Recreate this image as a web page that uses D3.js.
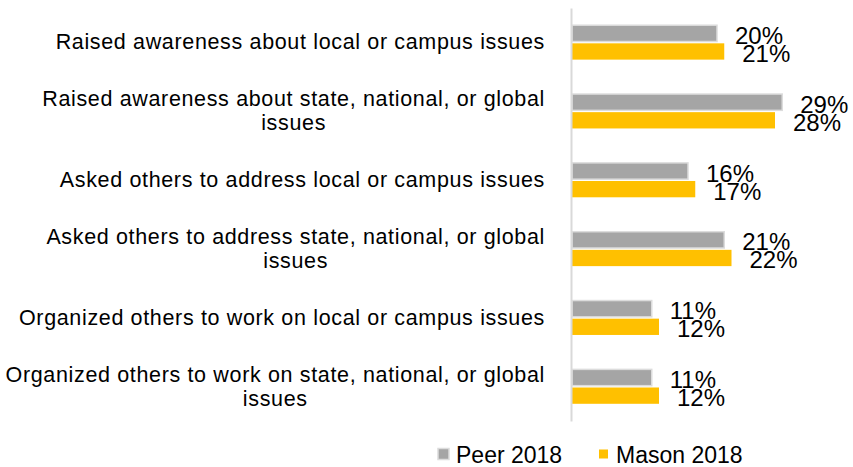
<!DOCTYPE html>
<html>
<head>
<meta charset="utf-8">
<script src="https://cdn.jsdelivr.net/npm/d3@7"></script>
<style>
  html, body { margin: 0; padding: 0; background: #ffffff; }
  svg { display: block; }
  text { font-family: "Liberation Sans", Arial, sans-serif; fill: #000000; }
</style>
</head>
<body>
<svg id="chart" width="853" height="467"></svg>
<script>
// Civic action items, top to bottom
const categories = [
  "Raised awareness about local or campus issues",
  "Raised awareness about state, national, or global issues",
  "Asked others to address local or campus issues",
  "Asked others to address state, national, or global issues",
  "Organized others to work on local or campus issues",
  "Organized others to work on state, national, or global issues"
];
// Percent of respondents
const peer2018 = [20, 29, 16, 21, 11, 11];
const mason2018 = [21, 28, 17, 22, 12, 12];
const seriesNames = ["Peer 2018", "Mason 2018"];
const seriesColors = ["#a5a5a5", "#ffc000"];

const svg = d3.select("#chart");

const y = d3.scaleBand()
  .domain(categories)
  .range([8, 421])
  .paddingInner(0.5)
  .paddingOuter(0.25);

const ySeries = d3.scaleBand()
  .domain(seriesNames)
  .range([0, y.bandwidth()])
  .paddingInner(0.1);

const x = d3.scaleLinear()
  .domain([0, 35])
  .range([572, 825.75]);

const rows = categories.map((c, i) => ({
  category: c,
  values: [
    { series: seriesNames[0], value: peer2018[i], color: seriesColors[0] },
    { series: seriesNames[1], value: mason2018[i], color: seriesColors[1] }
  ]
}));

// bars
const groups = svg.append("g").selectAll("g")
  .data(rows)
  .join("g")
  .attr("transform", d => `translate(0,${y(d.category)})`);

groups.selectAll("rect")
  .data(d => d.values)
  .join("rect")
  .attr("x", x(0))
  .attr("y", d => ySeries(d.series))
  .attr("width", d => x(d.value) - x(0))
  .attr("height", ySeries.bandwidth())
  .attr("fill", d => d.color)
  .attr("stroke", d => d.series === seriesNames[0] ? "#dcdcdc" : "none")
  .attr("stroke-width", 1.5);

// value labels (they sit close together, as in the source deck)
groups.selectAll("text.val")
  .data(d => d.values)
  .join("text")
  .attr("class", "val")
  .attr("x", d => x(d.value) + 18)
  .attr("y", d => ySeries(d.series) + ySeries.bandwidth() / 2 + 2)
  .attr("dominant-baseline", "central")
  .style("font-size", "24px")
  .text(d => d.value + "%");

// vertical category axis line
const axis = svg.append("g")
  .attr("transform", `translate(${x(0) - 1},0)`)
  .call(d3.axisLeft(y).tickSize(0).tickFormat("").tickSizeOuter(0));
axis.select(".domain").attr("stroke", "#d9d9d9").attr("stroke-width", 2);

// category labels, wrapped and centred as a block right-aligned to the axis
const labelRight = 545;
const labelFont = 21.5;
const labelSpacing = 0.65;
const maxLabelWidth = 540;
const lineHeight = 24;

const measure = svg.append("text")
  .style("font-size", labelFont + "px")
  .style("letter-spacing", labelSpacing + "px");
function textWidth(s) { measure.text(s); return measure.node().getComputedTextLength(); }

function wrap(s) {
  const words = s.split(" ");
  const lines = [];
  let line = words[0];
  for (let k = 1; k < words.length; k++) {
    const trial = line + " " + words[k];
    if (textWidth(trial) > maxLabelWidth) { lines.push(line); line = words[k]; }
    else line = trial;
  }
  lines.push(line);
  return lines;
}

rows.forEach(d => {
  const lines = wrap(d.category);
  const blockW = d3.max(lines, l => textWidth(l));
  const cx = labelRight - blockW / 2;
  const cy = y(d.category) + y.bandwidth() / 2;
  const t = svg.append("text")
    .attr("text-anchor", "middle")
    .style("font-size", labelFont + "px")
    .style("letter-spacing", labelSpacing + "px");
  lines.forEach((l, k) => {
    t.append("tspan")
      .attr("x", cx)
      .attr("y", cy + (k - (lines.length - 1) / 2) * lineHeight)
      .attr("dominant-baseline", "central")
      .text(l);
  });
});
measure.remove();

// legend
const legend = svg.append("g").attr("transform", "translate(0,454)");
const legendItems = [
  { name: seriesNames[0], color: seriesColors[0], x: 438, size: 11, stroke: "#dcdcdc", gap: 18 },
  { name: seriesNames[1], color: seriesColors[1], x: 599, size: 9, stroke: "none", gap: 17 }
];
legendItems.forEach(it => {
  legend.append("rect")
    .attr("x", it.x)
    .attr("y", -it.size / 2)
    .attr("width", it.size)
    .attr("height", it.size)
    .attr("fill", it.color)
    .attr("stroke", it.stroke)
    .attr("stroke-width", 1.5);
  legend.append("text")
    .attr("x", it.x + it.gap)
    .attr("y", 1)
    .attr("dominant-baseline", "central")
    .style("font-size", "23px")
    .text(it.name);
});
</script>
</body>
</html>
